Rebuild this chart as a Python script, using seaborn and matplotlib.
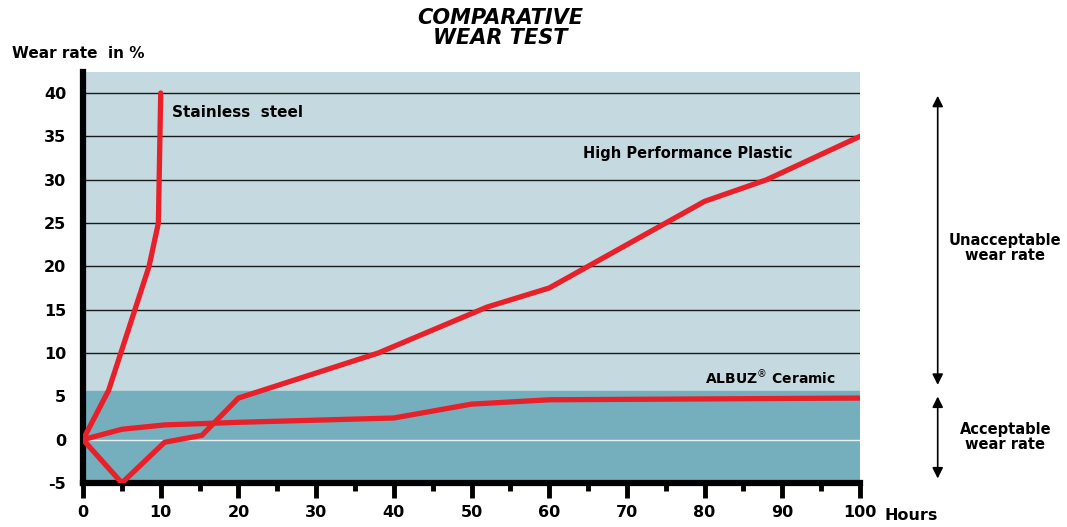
import pandas as pd
import matplotlib.pyplot as plt
import seaborn as sns

sns.set_theme(style="white")
plt.rcParams['font.family'] = ['DejaVu Sans']
plt.rcParams['axes.unicode_minus'] = False
plt.rcParams['text.color'] = 'black'
plt.rcParams['xtick.color'] = 'black'
plt.rcParams['ytick.color'] = 'black'

# hours / wear rate
steel_hours = [0, 3.3, 8.5, 9.7, 10]
steel_wear = [0, 5.7, 20, 25, 40]

plastic_hours = [0, 5, 10.5, 15.3, 20, 38, 52, 60, 80, 88, 100]
plastic_wear = [0, -5, -0.3, 0.5, 4.8, 10, 15.3, 17.5, 27.5, 30, 35]

ceramic_hours = [0, 5, 10.5, 20, 40, 50, 60, 100]
ceramic_wear = [0, 1.2, 1.7, 2.0, 2.5, 4.1, 4.6, 4.8]

y_ticks = [-5, 0, 5, 10, 15, 20, 25, 30, 35, 40]
x_ticks = [0, 10, 20, 30, 40, 50, 60, 70, 80, 90, 100]
x_minor = [5, 15, 25, 35, 45, 55, 65, 75, 85, 95]

red = '#e8202a'
light = '#c5dae0'
dark = '#75afbd'

fig = plt.figure(figsize=(10.67, 5.27), dpi=100)
ax = fig.add_axes([0.0778, 0.0835, 0.7282, 0.7795])
ax.set_facecolor(light)
ax.axhspan(-5, 5.65, color=dark, zorder=0)

for y in y_ticks:
    if y >= 10:
        ax.axhline(y, color='#1a1a1a', lw=1.0, zorder=1)
ax.axhline(0, color='#e8f0f2', lw=1.0, zorder=1)

for h, w in [(steel_hours, steel_wear), (plastic_hours, plastic_wear), (ceramic_hours, ceramic_wear)]:
    df = pd.DataFrame({'hours': h, 'wear': w})
    sns.lineplot(data=df, x='hours', y='wear', sort=False, color=red, lw=3.8,
                 ax=ax, zorder=3, solid_joinstyle='miter')

ax.set_xlim(0, 100)
ax.set_ylim(-5, 42.4)
ax.set_xlabel('')
ax.set_ylabel('')

for s in ['top', 'right']:
    ax.spines[s].set_visible(False)
for s in ['left', 'bottom']:
    ax.spines[s].set_color('black')
    ax.spines[s].set_linewidth(4.5)

ax.set_xticks(x_ticks)
ax.set_xticks(x_minor, minor=True)
ax.set_yticks(y_ticks)
ax.tick_params(axis='x', which='major', bottom=True, length=11, width=3.5, color='black',
               direction='out', pad=5, labelsize=11.5)
ax.tick_params(axis='x', which='minor', bottom=True, length=6, width=3.5, color='black',
               direction='out')
ax.tick_params(axis='y', left=False, length=0, pad=12, labelsize=11.5)
for lab in ax.get_xticklabels() + ax.get_yticklabels():
    lab.set_fontweight('bold')

ax.text(11.5, 37.8, 'Stainless  steel', fontsize=11, fontweight='bold', va='center')
ax.text(64.3, 33.0, 'High Performance Plastic', fontsize=10.5, fontweight='bold', va='center')
ax.text(80.0, 7.1, 'ALBUZ$^{\\circledR}$ Ceramic', fontsize=10, fontweight='bold', va='center')

# acceptable / unacceptable arrows on the right
ax.annotate('', xy=(110, 40), xytext=(110, 6.0), annotation_clip=False,
            arrowprops=dict(arrowstyle='<|-|>', color='black', lw=1.2, mutation_scale=16))
ax.annotate('', xy=(110, 5.3), xytext=(110, -4.8), annotation_clip=False,
            arrowprops=dict(arrowstyle='<|-|>', color='black', lw=1.2, mutation_scale=16))
ax.text(118.7, 22.1, 'Unacceptable\nwear rate', ha='center', va='center',
        fontsize=10.5, fontweight='bold', linespacing=1.0, clip_on=False)
ax.text(118.7, 0.35, 'Acceptable\nwear rate', ha='center', va='center',
        fontsize=10.5, fontweight='bold', linespacing=1.0, clip_on=False)

fig.text(0.469, 0.985, 'COMPARATIVE\nWEAR TEST', ha='center', va='top', fontsize=15,
         fontweight='bold', fontstyle='italic', linespacing=1.0)
fig.text(12 / 1067, 1 - 53 / 527, 'Wear rate  in %', ha='left', va='center',
         fontsize=11, fontweight='bold')
fig.text(885 / 1067, 1 - 516 / 527, 'Hours', ha='left', va='center',
         fontsize=11.5, fontweight='bold')

plt.savefig('out.png', dpi=100)
plt.close()
